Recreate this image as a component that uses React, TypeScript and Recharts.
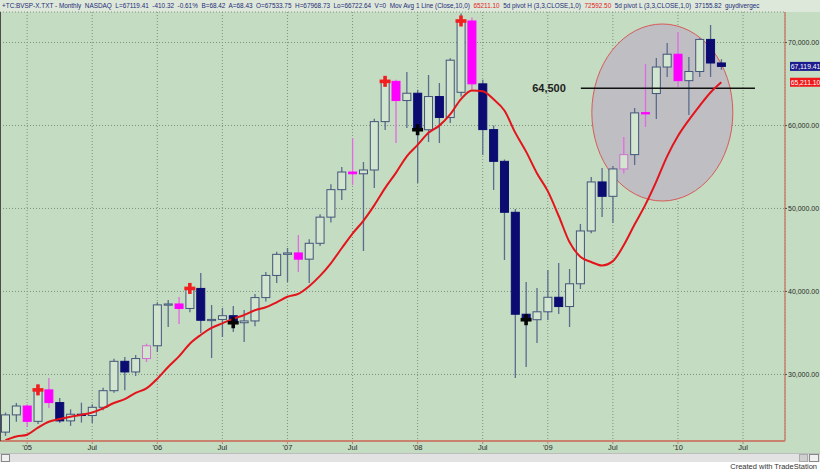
import React from 'react';
import {
  ComposedChart, Bar, Line, Scatter, XAxis, YAxis, CartesianGrid,
  ReferenceArea, ReferenceLine,
} from 'recharts';

// ---- categories (monthly bars, with empty future slots at the right) ----
const months = [
  '2004-11', '2004-12',
  '2005-01', '2005-02', '2005-03', '2005-04', '2005-05', '2005-06', '2005-07', '2005-08', '2005-09', '2005-10', '2005-11', '2005-12',
  '2006-01', '2006-02', '2006-03', '2006-04', '2006-05', '2006-06', '2006-07', '2006-08', '2006-09', '2006-10', '2006-11', '2006-12',
  '2007-01', '2007-02', '2007-03', '2007-04', '2007-05', '2007-06', '2007-07', '2007-08', '2007-09', '2007-10', '2007-11', '2007-12',
  '2008-01', '2008-02', '2008-03', '2008-04', '2008-05', '2008-06', '2008-07', '2008-08', '2008-09', '2008-10', '2008-11', '2008-12',
  '2009-01', '2009-02', '2009-03', '2009-04', '2009-05', '2009-06', '2009-07', '2009-08', '2009-09', '2009-10', '2009-11', '2009-12',
  '2010-01', '2010-02', '2010-03', '2010-04', '2010-05', '2010-06', '2010-07', '2010-08', '2010-09', '2010-10',
];

const tickMonths = ['2005-01', '2005-07', '2006-01', '2006-07', '2007-01', '2007-07', '2008-01', '2008-07', '2009-01', '2009-07', '2010-01', '2010-07'];
const tickLabels = ["'05", 'Jul', "'06", 'Jul', "'07", 'Jul', "'08", 'Jul', "'09", 'Jul', "'10", 'Jul'];

// ---- OHLC series ----
const opens = [23052, 25128, 26196, 24351, 28139, 26610, 24406, 25206, 25051, 26042, 28043, 31583, 30300, 31916,
  33456, 38382, 38493, 37952, 40365, 36530, 36631, 37077, 36232, 36449, 39262, 41932,
  44473, 44641, 43892, 45804, 48956, 52268, 54392, 54182, 54637, 60465, 65317, 63006,
  63886, 59490, 63489, 60968, 64000, 72592, 65017, 59505, 55680, 49541, 37256, 36595,
  37550, 39300, 38183, 40926, 47290, 53197, 51465, 54765, 56488, 61517, 63850, 67044,
  68588, 65402, 66503, 70372, 67534];
const highs = [25400, 26560, 26400, 28800, 29570, 27160, 25800, 26600, 26400, 28400, 31900, 32100, 32350, 33700,
  38700, 38970, 39330, 40780, 42230, 38370, 38010, 38250, 37770, 39700, 42350, 44800,
  45240, 46800, 46300, 49300, 52930, 55000, 58490, 55600, 60800, 65900, 65500, 66450,
  64300, 66080, 65120, 68100, 73500, 73000, 65500, 60000, 55900, 49940, 41150, 40430,
  42600, 43430, 42710, 48130, 53790, 54880, 55120, 58610, 62110, 67410, 68130, 69940,
  71270, 68250, 70500, 72110, 67969];
const lows = [22600, 24300, 23670, 24020, 25960, 24150, 23800, 24200, 24150, 25700, 27800, 28100, 29800, 31500,
  32710, 35720, 36080, 37500, 35000, 31980, 34510, 35110, 33910, 35800, 38800, 41020,
  41140, 42340, 41020, 45470, 48300, 51020, 52830, 44880, 52470, 59450, 57890, 59700,
  53070, 58010, 57890, 60300, 63500, 64300, 56440, 52230, 43790, 29570, 30900, 33790,
  36560, 37280, 35720, 40300, 47000, 48970, 48250, 54200, 55240, 59820, 60780, 65840,
  64640, 61260, 65840, 65840, 66723];
const closes = [25128, 26196, 24351, 28139, 26610, 24406, 25206, 25051, 26042, 28043, 31583, 30300, 31916, 33456,
  38382, 38493, 37952, 40365, 36530, 36631, 37077, 36232, 36449, 39262, 41932, 44473,
  44641, 43892, 45804, 48956, 52268, 54392, 54182, 54637, 60465, 65317, 63006, 63886,
  59490, 63489, 60968, 67868, 72592, 65017, 59505, 55680, 49541, 37256, 36595, 37550,
  39300, 38183, 40926, 47290, 53197, 51465, 54765, 56488, 61517, 61545, 67044, 68588,
  65402, 66503, 70372, 67529, 67119];

// 10-month moving average of close (as drawn)
const smaValues = [22076, 22520, 22741, 23595, 24301, 24627, 24914, 25138, 25418, 25917, 26563, 27024, 27780, 28312,
  29489, 30898, 32172, 33704, 34753, 35611, 36161, 36703, 37157, 37737, 38092, 38690,
  39359, 39712, 40639, 41872, 43391, 45207, 46980, 48518, 50371, 52455, 54292, 56291,
  57660, 59113, 59983, 61331, 63172, 64210, 64114, 63150, 61804, 59141, 56851, 54257,
  52090, 49122, 45955, 44183, 43552, 43130, 43653, 45576, 48068, 50468, 53242, 56283,
  58730, 60651, 62369, 63975, 65211];

// bar paint: U = hollow up, D = navy down, P = magenta filled, Q = magenta outline
const kinds = [
  'U', 'U', 'P', 'U', 'P', 'D', 'U', 'D', 'U', 'U', 'U', 'D', 'U', 'Q',
  'U', 'U', 'P', 'U', 'D', 'U', 'U', 'D', 'U', 'U', 'U', 'U',
  'U', 'P', 'U', 'U', 'U', 'U', 'P', 'U', 'U', 'U', 'P', 'U',
  'D', 'U', 'D', 'U', 'U', 'P', 'D', 'D', 'D', 'D', 'D', 'U',
  'U', 'D', 'U', 'U', 'U', 'D', 'U', 'Q', 'U', 'P', 'U', 'U',
  'P', 'U', 'U', 'D', 'D'];

const pivotHighMonths = ['2005-02', '2006-04', '2007-10', '2008-05'];
const pivotLowMonths = ['2006-08', '2008-01', '2008-11'];

const yTicks = [30000, 40000, 50000, 60000, 70000];
const supportLevel = 64500;
const supportFrom = 53.05;
const supportTo = 69.1;
const ellipseBox = { x1: 54.06, x2: 67.06, y1: 50900, y2: 72230 };
const lastPrice = 67119.41;
const lastAverage = 65211.1;

const data = months.map((m, i) =>
  i < opens.length
    ? {
        m,
        idx: i,
        open: opens[i],
        high: highs[i],
        low: lows[i],
        close: closes[i],
        range: [lows[i], highs[i]],
        sma: smaValues[i],
        kind: kinds[i],
        pivH: pivotHighMonths.includes(m) ? closes[i] : undefined,
        pivL: pivotLowMonths.includes(m) ? closes[i] : undefined,
      }
    : { m, idx: i }
);

const BG = '#c4dcc1';
const STYLES: Record<string, { fill: string; stroke: string; wick: string }> = {
  U: { fill: '#d2e5cf', stroke: '#44557a', wick: '#5b6c8e' },
  D: { fill: '#0b0b72', stroke: '#0b0b72', wick: '#5b6c8e' },
  P: { fill: '#ff00ff', stroke: '#ff00ff', wick: '#e26ae2' },
  Q: { fill: '#d2e5cf', stroke: '#d070d0', wick: '#e26ae2' },
};

function CandleShape(props: any) {
  const { x, y, width, height, payload } = props;
  if (!payload || payload.open == null) return null;
  const { open, close, high, low, kind } = payload;
  const top = Math.min(y, y + height);
  const h = Math.abs(height);
  const py = (v: number) => top + ((high - v) / (high - low)) * h;
  const cx = x + width / 2;
  const yo = py(open);
  const yc = py(close);
  const bt = Math.min(yo, yc);
  const bh = Math.max(Math.abs(yo - yc), 1.2);
  const st = STYLES[kind];
  return (
    <g>
      <line x1={cx} x2={cx} y1={top} y2={top + h} stroke={st.wick} strokeWidth={1.3} />
      <rect x={x + 0.5} y={bt} width={width - 1} height={bh} fill={st.fill} stroke={st.stroke} strokeWidth={1} />
    </g>
  );
}

const makeCross = (color: string) => (props: any) => {
  const { cx, cy } = props;
  if (cx == null || cy == null || isNaN(cx) || isNaN(cy)) return null;
  return (
    <g>
      <rect x={cx - 5.5} y={cy - 1.8} width={11} height={3.6} fill={color} />
      <rect x={cx - 1.8} y={cy - 5.5} width={3.6} height={11} fill={color} />
    </g>
  );
};

const EllipseShape = (props: any) => {
  const { x, y, width, height } = props;
  return (
    <ellipse
      cx={x + width / 2}
      cy={y + height / 2}
      rx={width / 2}
      ry={height / 2}
      fill="#bebec3"
      stroke="#d85a58"
      strokeWidth={1}
    />
  );
};

const priceBox = (fill: string, text: string) => (p: any) => {
  const vb = p.viewBox || {};
  const bx = vb.x + vb.width + 5;
  const by = vb.y;
  return (
    <g>
      <rect x={bx} y={by - 4.5} width={31} height={9} fill={fill} />
      <text x={bx + 15.5} y={by + 2.6} textAnchor="middle" fontSize={6.8} fill="#ffffff" fontFamily="Liberation Sans, Arial">
        {text}
      </text>
    </g>
  );
};

const fmtY = (v: number) => v.toLocaleString('en-US', { minimumFractionDigits: 2, maximumFractionDigits: 2 });
const fmtX = (m: string) => {
  const k = tickMonths.indexOf(m);
  return k >= 0 ? tickLabels[k] : '';
};

export default function App() {
  return (
    <div style={{ position: 'absolute', left: 0, top: 0, width: 820, height: 472, background: BG, overflow: 'hidden' }}>
      <div
        style={{
          position: 'absolute', left: 0, top: 0, width: 820, height: 12, background: '#dde8da',
          fontFamily: '"Liberation Sans", Arial, sans-serif', fontSize: 6.4, lineHeight: '12px',
          whiteSpace: 'pre', color: '#1d2a78', overflow: 'hidden', paddingLeft: 2, boxSizing: 'border-box',
        }}
      >
        {'+TC:BVSP-X.TXT - Monthly  NASDAQ  L=67119.41  -410.32  -0.61%  B=68.42  A=68.43  O=67533.75  H=67968.73  Lo=66722.64  V=0  Mov Avg 1 Line (Close,10,0)  '}
        <span style={{ color: '#e0201c' }}>65211.10</span>
        {'  5d pivot H (3,3,CLOSE,1,0)  '}
        <span style={{ color: '#e0201c' }}>72592.50</span>
        {'  5d pivot L (3,3,CLOSE,1,0)  37155.82  guydivergec'}
      </div>
      <div style={{ position: 'absolute', left: 0, top: 0 }}>
        <ComposedChart
          width={820}
          height={472}
          data={data}
          margin={{ top: 12, right: 0, left: 0, bottom: 19 }}
          barCategoryGap={0}
        >
          <CartesianGrid
            xAxisId="cat"
            yAxisId="p"
            stroke="#7f927f"
            strokeDasharray="1 2"
            horizontal
            vertical
          />
          <XAxis
            xAxisId="cat"
            dataKey="m"
            type="category"
            ticks={tickMonths}
            interval={0}
            tickFormatter={fmtX}
            padding={{ left: 0, right: 4 }}
            height={12}
            tickSize={3}
            tickMargin={1}
            axisLine={{ stroke: '#c9826e', strokeWidth: 2 }}
            tickLine={{ stroke: '#c9826e' }}
            tick={{ fontSize: 7.5, fill: '#2a2a2a', fontFamily: 'Liberation Sans, Arial' }}
          />
          <XAxis
            xAxisId="num"
            dataKey="idx"
            type="number"
            domain={[-0.5, 71.5]}
            allowDataOverflow
            padding={{ left: 0, right: 4 }}
            hide
          />
          <YAxis
            yAxisId="p"
            orientation="right"
            domain={[21981, 73675]}
            allowDataOverflow
            ticks={yTicks}
            tickFormatter={fmtY}
            width={35}
            tickSize={2}
            tickMargin={1}
            axisLine={{ stroke: '#c9826e', strokeWidth: 1.5 }}
            tickLine={{ stroke: '#555' }}
            tick={{ fontSize: 7, fill: '#2a2a2a', fontFamily: 'Liberation Sans, Arial' }}
          />
          <ReferenceArea
            xAxisId="num"
            yAxisId="p"
            x1={ellipseBox.x1}
            x2={ellipseBox.x2}
            y1={ellipseBox.y1}
            y2={ellipseBox.y2}
            shape={EllipseShape}
            ifOverflow="visible"
          />
          <Bar
            xAxisId="cat"
            yAxisId="p"
            dataKey="range"
            barSize={9}
            shape={CandleShape}
            isAnimationActive={false}
          />
          <ReferenceLine
            xAxisId="num"
            yAxisId="p"
            segment={[{ x: supportFrom, y: supportLevel }, { x: supportTo, y: supportLevel }]}
            stroke="#111"
            strokeWidth={1.5}
            label={{ value: '64,500', position: 'left', offset: 15, fontSize: 11, fontWeight: 'bold', fill: '#222', fontFamily: 'Liberation Sans, Arial' }}
          />
          <Line
            xAxisId="cat"
            yAxisId="p"
            dataKey="sma"
            type="monotone"
            stroke="#e3141c"
            strokeWidth={2}
            dot={false}
            isAnimationActive={false}
          />
          <Scatter xAxisId="cat" yAxisId="p" dataKey="pivH" shape={makeCross('#f02020')} isAnimationActive={false} />
          <Scatter xAxisId="cat" yAxisId="p" dataKey="pivL" shape={makeCross('#050505')} isAnimationActive={false} />
          <ReferenceLine xAxisId="cat" yAxisId="p" y={lastPrice} stroke="none" label={{ content: priceBox('#1c1c8e', '67,119.41') }} />
          <ReferenceLine xAxisId="cat" yAxisId="p" y={lastAverage} stroke="none" label={{ content: priceBox('#f01818', '65,211.10') }} />
        </ComposedChart>
      </div>
      <div style={{ position: 'absolute', left: 0, top: 12, width: 1, height: 429, background: '#4c4c4c' }} />
      <div style={{ position: 'absolute', left: 0, top: 453, width: 820, height: 9, background: '#e2e2e2', borderTop: '1px solid #bdbdbd', boxSizing: 'border-box' }}>
        <div style={{ position: 'absolute', left: 1, top: 0, width: 9, height: 8, background: '#f0f0f0', border: '1px solid #888', boxSizing: 'border-box' }} />
        <div style={{ position: 'absolute', left: 799, top: 0, width: 9, height: 8, background: '#cfcfcf', border: '1px solid #aaa', boxSizing: 'border-box' }} />
        <div style={{ position: 'absolute', left: 809, top: 0, width: 10, height: 8, background: '#f0f0f0', border: '1px solid #888', boxSizing: 'border-box' }} />
      </div>
      <div
        style={{
          position: 'absolute', left: 0, top: 462, width: 820, height: 10, background: '#ffffff',
          fontFamily: '"Liberation Sans", Arial, sans-serif', fontSize: 7.5, lineHeight: '10px',
          textAlign: 'right', color: '#333', paddingRight: 3, boxSizing: 'border-box',
        }}
      >
        Created with TradeStation
      </div>
    </div>
  );
}
